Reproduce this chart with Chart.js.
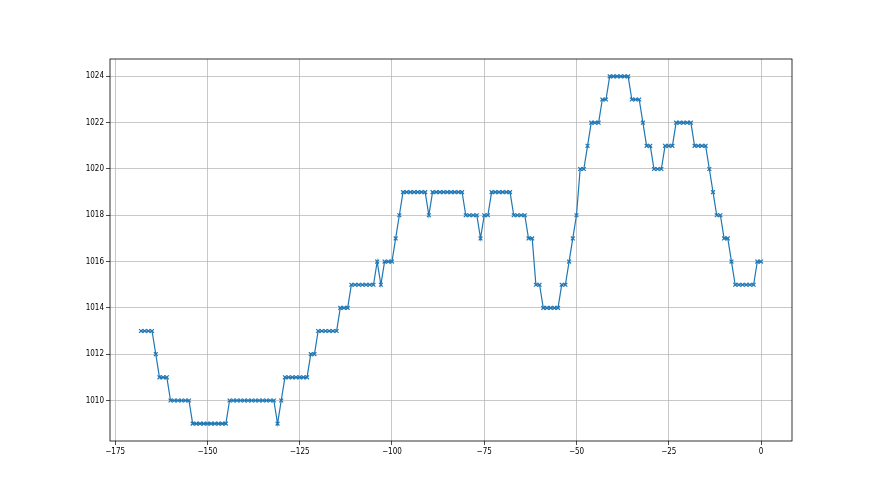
<!DOCTYPE html>
<html>
<head>
<meta charset="utf-8">
<script src="https://cdn.jsdelivr.net/npm/chart.js@4.4.0/dist/chart.umd.min.js"></script>
<style>
  body { margin: 0; background: #fff; }
  canvas { display: block; }
</style>
</head>
<body>
<canvas id="pressure-chart" width="880" height="495"></canvas>
<script>
// hours relative to now
const hours = [
    -168, -167, -166, -165, -164, -163, -162, -161, -160, -159,
    -158, -157, -156, -155, -154, -153, -152, -151, -150, -149,
    -148, -147, -146, -145, -144, -143, -142, -141, -140, -139,
    -138, -137, -136, -135, -134, -133, -132, -131, -130, -129,
    -128, -127, -126, -125, -124, -123, -122, -121, -120, -119,
    -118, -117, -116, -115, -114, -113, -112, -111, -110, -109,
    -108, -107, -106, -105, -104, -103, -102, -101, -100, -99,
    -98, -97, -96, -95, -94, -93, -92, -91, -90, -89,
    -88, -87, -86, -85, -84, -83, -82, -81, -80, -79,
    -78, -77, -76, -75, -74, -73, -72, -71, -70, -69,
    -68, -67, -66, -65, -64, -63, -62, -61, -60, -59,
    -58, -57, -56, -55, -54, -53, -52, -51, -50, -49,
    -48, -47, -46, -45, -44, -43, -42, -41, -40, -39,
    -38, -37, -36, -35, -34, -33, -32, -31, -30, -29,
    -28, -27, -26, -25, -24, -23, -22, -21, -20, -19,
    -18, -17, -16, -15, -14, -13, -12, -11, -10, -9,
    -8, -7, -6, -5, -4, -3, -2, -1, 0
];

// pressure readings (hPa)
const pressure = [
    1013, 1013, 1013, 1013, 1012, 1011, 1011, 1011, 1010, 1010,
    1010, 1010, 1010, 1010, 1009, 1009, 1009, 1009, 1009, 1009,
    1009, 1009, 1009, 1009, 1010, 1010, 1010, 1010, 1010, 1010,
    1010, 1010, 1010, 1010, 1010, 1010, 1010, 1009, 1010, 1011,
    1011, 1011, 1011, 1011, 1011, 1011, 1012, 1012, 1013, 1013,
    1013, 1013, 1013, 1013, 1014, 1014, 1014, 1015, 1015, 1015,
    1015, 1015, 1015, 1015, 1016, 1015, 1016, 1016, 1016, 1017,
    1018, 1019, 1019, 1019, 1019, 1019, 1019, 1019, 1018, 1019,
    1019, 1019, 1019, 1019, 1019, 1019, 1019, 1019, 1018, 1018,
    1018, 1018, 1017, 1018, 1018, 1019, 1019, 1019, 1019, 1019,
    1019, 1018, 1018, 1018, 1018, 1017, 1017, 1015, 1015, 1014,
    1014, 1014, 1014, 1014, 1015, 1015, 1016, 1017, 1018, 1020,
    1020, 1021, 1022, 1022, 1022, 1023, 1023, 1024, 1024, 1024,
    1024, 1024, 1024, 1023, 1023, 1023, 1022, 1021, 1021, 1020,
    1020, 1020, 1021, 1021, 1021, 1022, 1022, 1022, 1022, 1022,
    1021, 1021, 1021, 1021, 1020, 1019, 1018, 1018, 1017, 1017,
    1016, 1015, 1015, 1015, 1015, 1015, 1015, 1016, 1016
];

const xTicks = [-175, -150, -125, -100, -75, -50, -25, 0];
const yTicks = [1010, 1012, 1014, 1016, 1018, 1020, 1022, 1024];

const fmt = (v) => (v < 0 ? '\u2212' + Math.abs(v) : String(v));

// box around the plot area, like matplotlib spines
const frame = {
    id: 'frame',
    afterDraw(chart) {
        const { ctx, chartArea } = chart;
        ctx.save();
        ctx.strokeStyle = '#000';
        ctx.lineWidth = 0.8;
        ctx.strokeRect(chartArea.left, chartArea.top,
            chartArea.right - chartArea.left, chartArea.bottom - chartArea.top);
        ctx.restore();
    }
};

new Chart(document.getElementById('pressure-chart'), {
    type: 'line',
    data: {
        datasets: [{
            data: hours.map((h, i) => ({ x: h, y: pressure[i] })),
            borderColor: '#1f77b4',
            backgroundColor: '#1f77b4',
            borderWidth: 1.2,
            pointStyle: 'crossRot',
            pointRadius: 2.7,
            pointBorderWidth: 1.2,
            pointBorderColor: '#1f77b4',
            tension: 0,
            fill: false
        }]
    },
    options: {
        responsive: false,
        animation: false,
        devicePixelRatio: 1,
        layout: { padding: { left: 0, right: 88, top: 59, bottom: 0 } },
        plugins: {
            legend: { display: false },
            tooltip: { enabled: false }
        },
        scales: {
            x: {
                type: 'linear',
                min: -176.4,
                max: 8.4,
                afterBuildTicks: (scale) => { scale.ticks = xTicks.map(v => ({ value: v })); },
                afterFit: (scale) => { scale.height = 54; },
                grid: { color: '#b0b0b0', lineWidth: 0.7, tickColor: '#000', tickLength: 4 },
                border: { display: false },
                ticks: {
                    color: '#000',
                    padding: 2,
                    maxRotation: 0,
                    font: { family: 'DejaVu Sans Condensed, DejaVu Sans', size: 8 },
                    callback: (v) => fmt(v)
                }
            },
            y: {
                min: 1008.25,
                max: 1024.75,
                afterBuildTicks: (scale) => { scale.ticks = yTicks.map(v => ({ value: v })); },
                afterFit: (scale) => { scale.width = 110; },
                grid: { color: '#b0b0b0', lineWidth: 0.7, tickColor: '#000', tickLength: 4 },
                border: { display: false },
                ticks: {
                    color: '#000',
                    padding: 2,
                    font: { family: 'DejaVu Sans Condensed, DejaVu Sans', size: 8 },
                    callback: (v) => fmt(v)
                }
            }
        }
    },
    plugins: [frame]
});
</script>
</body>
</html>
